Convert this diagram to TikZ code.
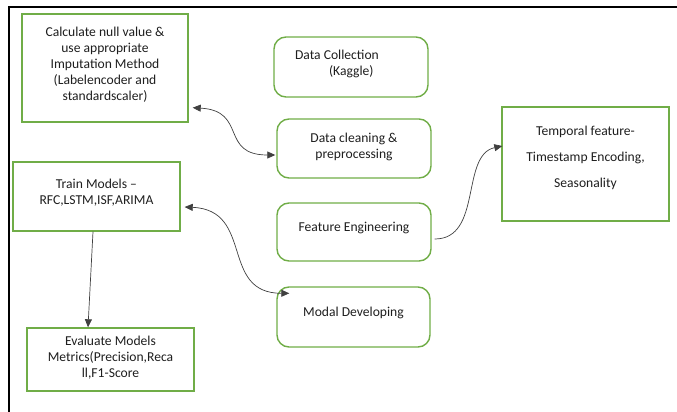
\documentclass[tikz,border=0pt]{standalone}
\usepackage{fontspec}
\setmainfont{Carlito}
\usetikzlibrary{arrows.meta,calc}
\definecolor{boxgreen}{RGB}{112,173,71}
\definecolor{txt}{RGB}{30,30,30}
\tikzset{
  sqbox/.style={draw=boxgreen,line width=1.4pt,rectangle,align=center,text=txt,
    font=\fontsize{13.6}{16}\selectfont,inner sep=0pt},
  rbox/.style={sqbox,rounded corners=12pt},
  lbl/.style={text=txt,align=center,font=\fontsize{13.6}{16}\selectfont,inner sep=0pt},
  conn/.style={draw=black!75,line width=0.7pt},
  tip/.style={-{Triangle[length=8pt,width=7pt]}},
  tips/.style={{Triangle[length=8pt,width=7pt]}-{Triangle[length=8pt,width=7pt]}}
}
\begin{document}
\begin{tikzpicture}[x=1pt,y=-1pt]
\useasboundingbox (0,0) rectangle (677,412);
% frame
\draw[line width=1.6pt] (9,412) -- (9,7) -- (677,7);
% boxes
\node[sqbox,minimum width=166pt,minimum height=108pt] (calc) at (105,68) {};
\node[lbl] (calct) at (105,64.5) {Calculate null value \&\\use appropriate\\Imputation Method\\(Labelencoder and\\standardscaler)};
\node[rbox,minimum width=154pt,minimum height=60pt] (dc) at (351,67) {};
\node[lbl,align=left] (dct) at (337,64) {Data Collection\\\hspace{34pt}(Kaggle)};
\node[rbox,minimum width=154pt,minimum height=59pt] (clean) at (354,148.5) {};
\node[lbl] (cleant) at (354,146.5) {Data cleaning \&\\preprocessing};
\node[rbox,minimum width=154pt,minimum height=58pt] (feat) at (354,232) {};
\node[lbl] (featt) at (354,228) {Feature Engineering};
\node[sqbox,minimum width=167pt,minimum height=114pt] (temp) at (585.5,164) {};
\node[lbl,font=\fontsize{13.6}{26}\selectfont] (tempt) at (585.5,158) {Temporal feature-\\Timestamp Encoding,\\Seasonality};
\node[sqbox,minimum width=167pt,minimum height=69pt] (train) at (96.5,196.5) {};
\node[lbl] (traint) at (96.5,193) {Train Models --\\RFC,LSTM,ISF,ARIMA};
\node[rbox,minimum width=153pt,minimum height=60pt] (modal) at (353.5,317) {};
\node[lbl] (modalt) at (353.5,313) {Modal Developing};
\node[sqbox,minimum width=167pt,minimum height=63pt] (eval) at (110.5,359.5) {};
\node[lbl] (evalt) at (110.5,358) {Evaluate Models\\Metrics(Precision,Reca\\ll,F1-Score};
% connectors
\coordinate (a1) at ($(calc.south east)+(4,-15)$);
\coordinate (a2) at ($(clean.west)+(-1,6.5)$);
\draw[conn,tips] (a1) .. controls +(55,3) and +(-56,0) .. (a2);
\coordinate (b1) at ($(train.east)+(4,10.5)$);
\coordinate (b2) at ($(modal.north west)+(13,7)$);
\draw[conn,tips] (b1) .. controls +(70,3) and +(-70,0) .. (b2);
\coordinate (c1) at ($(feat.east)+(3,7)$);
\coordinate (c2) at ($(temp.west)+(1,-18)$);
\draw[conn,tip] (c1) .. controls +(48,0) and +(-42,9) .. (c2);
\draw[conn,tip] ($(train.south)+(-3.5,0)$) -- ($(eval.north)+(-22.5,0)$);
\end{tikzpicture}
\end{document}
